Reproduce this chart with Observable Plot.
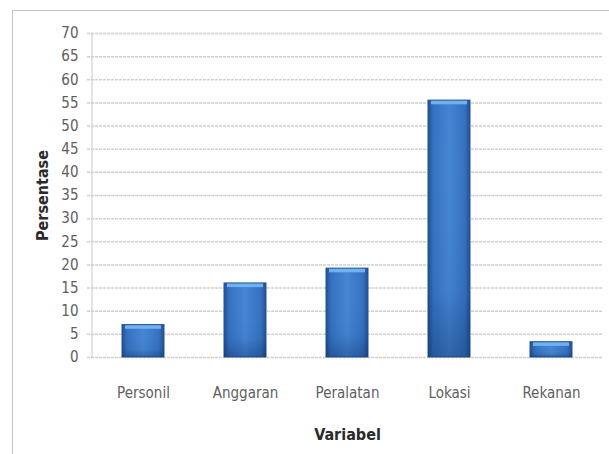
<!DOCTYPE html>
<html>
<head>
<meta charset="utf-8">
<script src="https://cdn.jsdelivr.net/npm/d3@7"></script>
<script src="https://cdn.jsdelivr.net/npm/@observablehq/plot@0.6"></script>
<style>
  html, body { margin: 0; padding: 0; background: #fff; }
  #wrap { position: relative; width: 609px; height: 454px; overflow: hidden; }
  #frame { position: absolute; left: 12px; top: 10px; width: 700px; height: 600px;
           border-top: 1px solid #c4c4c4; border-left: 1px solid #c4c4c4; pointer-events: none; }
  svg { font-family: "DejaVu Sans Condensed", "DejaVu Sans", sans-serif; font-stretch: condensed; }
  g[aria-label="y-axis tick label"] text, g[aria-label="x-axis tick label"] text { fill: #606060; }
  g[aria-label="y-axis label"] text, g[aria-label="x-axis label"] text { font-weight: bold; fill: #2a2a2a; }
</style>
</head>
<body>
<div id="wrap"><div id="frame"></div></div>
<script>
const categories = ["Personil", "Anggaran", "Peralatan", "Lokasi", "Rekanan"];
const values = [7, 16, 19.2, 55.5, 3.3];
const yTicks = [0, 5, 10, 15, 20, 25, 30, 35, 40, 45, 50, 55, 60, 65, 70];

const data = categories.map((c, i) => ({ cat: c, v: values[i] }));

const chart = Plot.plot({
  width: 609,
  height: 454,
  marginTop: 33,
  marginBottom: 97,
  marginLeft: 92,
  marginRight: 7,
  style: { fontSize: "15px", color: "#606060", background: "transparent" },
  x: { domain: categories, paddingInner: 0.59, paddingOuter: 0.295, label: "Variabel" },
  y: { domain: [0, 70], label: "Persentase" },
  marks: [
    Plot.ruleY(yTicks, { y: d => d, insetLeft: -5, stroke: "#d0d0d0", strokeWidth: 1.5, strokeDasharray: "3,1" }),
    Plot.axisY({ ticks: yTicks, tickSize: 0, tickPadding: 14, fontSize: 15, label: "Persentase",
                 labelAnchor: "center", labelArrow: "none", labelOffset: 56 }),
    Plot.axisX({ tickSize: 0, tickPadding: 30, fontSize: 15, label: "Variabel",
                 labelAnchor: "center", labelArrow: "none", labelOffset: 82 }),
    Plot.barY(data, { x: "cat", y: "v", fill: "url(#barGradH)", stroke: "#25528f", strokeWidth: 1 }),
    Plot.barY(data, { x: "cat", y: "v", fill: "url(#barGradV)" }),
    Plot.barY(data, { x: "cat", y1: d => d.v - 0.9, y2: d => d.v - 0.15, fill: "#6fb2f0", insetLeft: 3, insetRight: 3 })
  ]
});

const defs = d3.select(chart).insert("defs", ":first-child");
const gh = defs.append("linearGradient").attr("id", "barGradH").attr("x1", 0).attr("x2", 1).attr("y1", 0).attr("y2", 0);
[[0, "#1f4f90"], [0.12, "#3470c0"], [0.5, "#4585d3"], [0.88, "#3470c0"], [1, "#1f4f90"]]
  .forEach(([o, c]) => gh.append("stop").attr("offset", o).attr("stop-color", c));
const gv = defs.append("linearGradient").attr("id", "barGradV").attr("x1", 0).attr("x2", 0).attr("y1", 0).attr("y2", 1);
[[0, "#ffffff", 0], [0.75, "#0a2a5a", 0.05], [1, "#0a2a5a", 0.35]]
  .forEach(([o, c, a]) => gv.append("stop").attr("offset", o).attr("stop-color", c).attr("stop-opacity", a));

// label sizes
d3.select(chart).selectAll('g[aria-label="y-axis label"] text, g[aria-label="x-axis label"] text')
  .style("font-size", "16px");

// vertical axis line
const yScale = chart.scale("y");
d3.select(chart).append("line")
  .attr("x1", 92).attr("x2", 92).attr("y1", yScale.apply(70)).attr("y2", yScale.apply(0))
  .attr("stroke", "#c8c8c8");

document.getElementById("wrap").prepend(chart);
</script>
</body>
</html>
